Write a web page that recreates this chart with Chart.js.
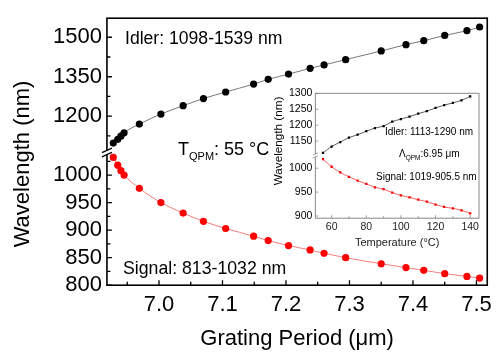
<!DOCTYPE html>
<html>
<head>
<meta charset="utf-8">
<script src="https://cdn.jsdelivr.net/npm/chart.js@4.4.1/dist/chart.umd.min.js"></script>
<style>
html, body { margin: 0; padding: 0; background: #fff; }
#wrap { position: relative; width: 499px; height: 352px; }
#main { position: absolute; left: 0; top: 0; }
#inset { position: absolute; left: 262px; top: 84px; }
</style>
</head>
<body>
<div id="wrap">
<canvas id="main" width="499" height="352"></canvas>
<canvas id="inset" width="222" height="166"></canvas>
</div>
<script>
// datos del grafico principal (periodo de red vs longitud de onda)
const period = [6.928, 6.935, 6.940, 6.945, 6.969, 7.003, 7.038, 7.070, 7.105, 7.149, 7.172, 7.204, 7.238, 7.260, 7.294, 7.350, 7.389, 7.417, 7.450, 7.485, 7.505];
const idler = [1098, 1112, 1124, 1137, 1170, 1208, 1240, 1267, 1292, 1322, 1340, 1360, 1382, 1395, 1415, 1448, 1472, 1487, 1507, 1525, 1539];
const signal = [1032, 1018, 1008, 1000, 976, 950, 931, 916, 903, 889, 881, 872, 864, 858, 850, 839, 832, 827, 821, 816, 813];

const xTicks = [7.0, 7.1, 7.2, 7.3, 7.4, 7.5];
const yTopTicks = [1200, 1350, 1500];
const yBotTicks = [800, 850, 900, 950, 1000];

// datos del inset (temperatura)
const temps = [55, 60, 65, 70, 75, 80, 85, 90, 95, 100, 105, 110, 115, 120, 125, 130, 135, 140];
const insetIdler = [1113, 1133, 1147, 1161, 1170, 1181, 1191, 1197, 1211, 1219, 1227, 1236, 1244, 1254, 1263, 1270, 1278, 1290];
const insetSignal = [1019, 1003, 991, 982, 974, 967, 960, 956, 949, 943, 939, 934, 930, 924, 919, 916, 912, 905.5];

const insetXTicks = [60, 80, 100, 120, 140];
const insetTopTicks = [1150, 1200, 1250, 1300];
const insetBotTicks = [900, 950, 1000];

const FONT = 'Arial, "Liberation Sans", sans-serif';
Chart.defaults.font.family = FONT;
Chart.defaults.color = '#000';

function pts(xs, ys) {
    return xs.map((x, i) => ({ x: x, y: ys[i] }));
}

function setTicks(values) {
    return function(scale) {
        scale.ticks = values.map(v => ({ value: v }));
    };
}

// minor ticks a mitad de camino entre los mayores
function minors(values, scale) {
    const step = values[1] - values[0];
    const out = [values[0] - step / 2];
    values.forEach(v => out.push(v + step / 2));
    return out.filter(v => v > scale.min && v < scale.max);
}

// marco, ticks hacia adentro y corte del eje
function framePlugin(cfg) {
    return {
        id: 'frame',
        beforeDraw(chart) {
            if (!cfg.fill) return;
            const a = chart.chartArea;
            chart.ctx.save();
            chart.ctx.fillStyle = '#fff';
            chart.ctx.fillRect(a.left, a.top, a.right - a.left, a.bottom - a.top);
            chart.ctx.restore();
        },
        afterDraw(chart) {
            const ctx = chart.ctx;
            const a = chart.chartArea;
            const s = chart.scales;
            ctx.save();
            ctx.strokeStyle = cfg.color;
            ctx.lineWidth = cfg.width;
            ctx.strokeRect(a.left, a.top, a.right - a.left, a.bottom - a.top);

            ctx.lineWidth = cfg.tickWidth;
            ctx.beginPath();
            const xt = (v, len) => {
                const p = s.x.getPixelForValue(v);
                ctx.moveTo(p, a.bottom);
                ctx.lineTo(p, a.bottom - len);
            };
            const yt = (sc, v, len) => {
                const p = sc.getPixelForValue(v);
                ctx.moveTo(a.left, p);
                ctx.lineTo(a.left + len, p);
            };
            cfg.xTicks.forEach(v => xt(v, cfg.major));
            if (cfg.minor) minors(cfg.xTicks, s.x).forEach(v => xt(v, cfg.minor));
            cfg.topTicks.forEach(v => yt(s.yTop, v, cfg.major));
            cfg.botTicks.forEach(v => yt(s.yBot, v, cfg.major));
            if (cfg.minorY) {
                minors(cfg.topTicks, s.yTop).forEach(v => yt(s.yTop, v, cfg.minorY));
                minors(cfg.botTicks, s.yBot).forEach(v => yt(s.yBot, v, cfg.minorY));
            }
            ctx.stroke();

            // corte del eje y
            const yb = s.yTop.bottom;
            const g = cfg.gap;
            ctx.fillStyle = '#fff';
            ctx.fillRect(a.left - 2, yb - g, 4, 2 * g);
            ctx.lineWidth = cfg.tickWidth;
            ctx.beginPath();
            [-g, g].forEach(d => {
                ctx.moveTo(a.left - cfg.slash, yb + d + cfg.slash * 0.45);
                ctx.lineTo(a.left + cfg.slash, yb + d - cfg.slash * 0.45);
            });
            ctx.stroke();
            ctx.restore();
        }
    };
}

function textPlugin(items) {
    return {
        id: 'texts',
        afterDraw(chart) {
            const ctx = chart.ctx;
            ctx.save();
            ctx.fillStyle = '#000';
            items.forEach(t => {
                ctx.save();
                ctx.translate(t.x, t.y);
                if (t.rot) ctx.rotate(t.rot);
                ctx.textAlign = t.align || 'left';
                ctx.textBaseline = t.base || 'alphabetic';
                let x = 0;
                t.parts.forEach(p => {
                    ctx.font = p.size + 'px ' + FONT;
                    ctx.fillText(p.text, x, p.dy || 0);
                    x += ctx.measureText(p.text).width;
                });
                ctx.restore();
            });
            ctx.restore();
        }
    };
}

function yAxis(min, max, weight, ticks, font, pad) {
    return {
        type: 'linear',
        position: 'left',
        stack: 'w',
        stackWeight: weight,
        min: min,
        max: max,
        grid: { display: false, drawTicks: false },
        border: { display: false },
        afterBuildTicks: setTicks(ticks),
        ticks: { font: { size: font }, padding: pad, autoSkip: false, callback: v => String(v) }
    };
}

new Chart(document.getElementById('main'), {
    type: 'line',
    data: {
        datasets: [{
            data: pts(period, signal),
            yAxisID: 'yBot',
            borderColor: '#f47c7c',
            borderWidth: 1,
            pointRadius: 3.6,
            pointBorderWidth: 0,
            pointBackgroundColor: '#ff0000',
            cubicInterpolationMode: 'monotone'
        }, {
            data: pts(period, idler),
            yAxisID: 'yTop',
            borderColor: '#777',
            borderWidth: 1,
            pointRadius: 3.6,
            pointBorderWidth: 0,
            pointBackgroundColor: '#000',
            cubicInterpolationMode: 'monotone'
        }]
    },
    options: {
        responsive: false,
        animation: false,
        devicePixelRatio: 1,
        layout: { padding: { left: 48, right: 9, top: 8, bottom: 0 } },
        plugins: { legend: { display: false }, tooltip: { enabled: false } },
        scales: {
            x: {
                type: 'linear',
                min: 6.918,
                max: 7.517,
                grid: { display: false, drawTicks: false },
                border: { display: false },
                afterBuildTicks: setTicks(xTicks),
                ticks: { font: { size: 22 }, padding: 7, autoSkip: false, maxRotation: 0, callback: v => v.toFixed(1) },
                title: { display: true, text: 'Grating Period (\u03bcm)', font: { size: 22 }, padding: { top: 0, bottom: 0 } }
            },
            yBot: yAxis(800, 1041, 141.3, yBotTicks, 22, 5),
            yTop: yAxis(1062, 1572.5, 143, yTopTicks, 22, 5)
        }
    },
    plugins: [
        framePlugin({ color: '#000', width: 1.6, tickWidth: 1.3, major: 5, minor: 3.5, minorY: 3.5, xTicks: xTicks, topTicks: yTopTicks, botTicks: yBotTicks, gap: 2.2, slash: 5 }),
        textPlugin([
            { x: 23, y: 164, rot: -Math.PI / 2, align: 'center', base: 'middle', parts: [{ text: 'Wavelength (nm)', size: 22 }] },
            { x: 125, y: 44, parts: [{ text: 'Idler: 1098-1539 nm', size: 17.6 }] },
            { x: 123, y: 274, parts: [{ text: 'Signal: 813-1032 nm', size: 17.7 }] },
            { x: 178, y: 155, parts: [{ text: 'T', size: 18 }, { text: 'QPM', size: 11, dy: 5 }, { text: ': 55 \u00b0C', size: 18 }] }
        ])
    ]
});

new Chart(document.getElementById('inset'), {
    type: 'line',
    data: {
        datasets: [{
            data: pts(temps, insetSignal),
            yAxisID: 'yBot',
            borderColor: '#f03a3a',
            borderWidth: 0.8,
            pointStyle: 'rect',
            pointRadius: 1.6,
            pointBorderWidth: 0,
            pointBackgroundColor: '#ff0000',
            cubicInterpolationMode: 'monotone'
        }, {
            data: pts(temps, insetIdler),
            yAxisID: 'yTop',
            borderColor: '#333',
            borderWidth: 0.8,
            pointStyle: 'rect',
            pointRadius: 1.6,
            pointBorderWidth: 0,
            pointBackgroundColor: '#000',
            cubicInterpolationMode: 'monotone'
        }]
    },
    options: {
        responsive: false,
        animation: false,
        devicePixelRatio: 1,
        layout: { padding: { left: 24, right: 5, top: 6.7, bottom: 0 } },
        plugins: { legend: { display: false }, tooltip: { enabled: false } },
        scales: {
            x: {
                type: 'linear',
                min: 50.6,
                max: 145.1,
                grid: { display: false, drawTicks: false },
                border: { display: false },
                afterBuildTicks: setTicks(insetXTicks),
                ticks: { font: { size: 10.5 }, padding: 3, autoSkip: false, maxRotation: 0, color: '#222', callback: v => String(v) },
                title: { display: true, text: 'Temperature (\u00b0C)', font: { size: 11 }, color: '#222', padding: { top: 0, bottom: 0 } }
            },
            yBot: yAxis(895.4, 1026.6, 65.6, insetBotTicks, 10.5, 3),
            yTop: yAxis(1105, 1300, 65, insetTopTicks, 10.5, 3)
        }
    },
    plugins: [
        framePlugin({ fill: true, color: '#888', width: 1, tickWidth: 0.8, major: 3, minor: 2, minorY: 0, xTicks: insetXTicks, topTicks: insetTopTicks, botTicks: insetBotTicks, gap: 1.5, slash: 2.5 }),
        textPlugin([
            { x: 17, y: 57, rot: -Math.PI / 2, align: 'center', base: 'middle', parts: [{ text: 'Wavelength (nm)', size: 11.7 }] },
            { x: 123, y: 51, parts: [{ text: 'Idler: 1113-1290 nm', size: 10 }] },
            { x: 137, y: 73.3, parts: [{ text: '\u039b', size: 10 }, { text: 'QPM', size: 6.5, dy: 3 }, { text: ':6.95 \u03bcm', size: 10 }] },
            { x: 114, y: 96, parts: [{ text: 'Signal: 1019-905.5 nm', size: 10 }] }
        ])
    ]
});
</script>
</body>
</html>
